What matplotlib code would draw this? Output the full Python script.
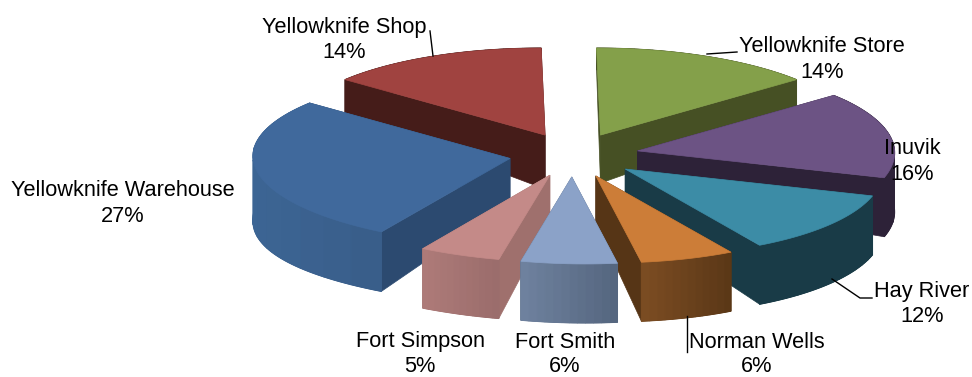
"""
Exploded 3D-look pie: top faces are a squashed circle with a little shear
towards the front, walls get taller towards the viewer.
"""
import numpy as np
import matplotlib
matplotlib.use("Agg")
import matplotlib.pyplot as plt
from matplotlib.colors import to_hex, to_rgb

plt.rcParams["font.family"] = ["Liberation Sans", "DejaVu Sans"]

categories = ["Yellowknife Store", "Inuvik", "Hay River", "Norman Wells",
              "Fort Smith", "Fort Simpson", "Yellowknife Warehouse", "Yellowknife Shop"]
values = [14, 16, 12, 6, 6, 5, 27, 14]
top_colors = ["#84A04A", "#6C5384", "#3C8CA6", "#CC7D38",
              "#8BA2C8", "#C48A88", "#40699C", "#A04340"]
cut_colors = ["#465024", "#2D2238", "#193B47", "#563516",
              "#55667F", "#9F706D", "#2C4A70", "#451C19"]
wall_left = ["#465024", "#2D2238", "#193B47", "#7C4D23",
             "#6F829F", "#AE7B79", "#3C6594", "#451C19"]
wall_right = ["#465024", "#2D2238", "#193B47", "#5A3716",
              "#54657E", "#9A6C6B", "#395D89", "#451C19"]

CX, CY = 572, 155      # pie centre in pixels
RX, RY = 257, 87       # top face radii
EX, EY = 65, 22        # explosion offset
BANDS = 12             # gradient steps on the outer wall


def shear(sy):
    return np.where(sy > 100, 0.00065 * (sy - 100) ** 2, -0.06 * (100 - sy))


def apex_depth(sy):
    return 34 + 0.137 * (sy - 80)


def arc_depth(sy, th):
    side = 59 + 6 * np.clip(-np.sin(th), 0, 1) ** 4
    return np.minimum(34 + 0.4 * (sy - 79), side)


fig = plt.figure(figsize=(9.72, 3.77), dpi=100)
ax = fig.add_axes([0, 0, 1, 1])
ax.set_xlim(0, 972)
ax.set_ylim(377, 0)
ax.axis("off")

fracs = np.array(values) / np.sum(values)
starts = np.concatenate([[0], np.cumsum(fracs)[:-1]]) * 2 * np.pi
ends = np.cumsum(fracs) * 2 * np.pi
mids = (starts + ends) / 2
apex_y = CY - EY * np.cos(mids)
rank = np.argsort(np.argsort(apex_y))   # back slices drawn first

# the two back slices have deeper cut faces than the model gives
apex_wall = {"Yellowknife Store": 48, "Yellowknife Shop": 54}

for i, name in enumerate(categories):
    z = 3 * rank[i]
    ay0 = apex_y[i]
    ax0 = CX + EX * np.sin(mids[i]) + shear(ay0)
    th = np.linspace(starts[i], ends[i], 61)
    ey = ay0 - RY * np.cos(th)
    ex = ax0 - shear(ay0) + RX * np.sin(th) + shear(ey)
    ed = arc_depth(ey, th)
    ad = apex_wall.get(name, apex_depth(ay0))

    # radial cut faces
    for k in (0, -1):
        ax.fill([ax0, ex[k], ex[k], ax0],
                [ay0, ey[k], ey[k] + ed[k], ay0 + ad],
                color=cut_colors[i], lw=0.5, zorder=z + 1)

    # outer wall: solid base, then wide bands for the gradient
    ax.fill(np.r_[ex, ex[::-1]], np.r_[ey, (ey + ed)[::-1]],
            color=wall_right[i], lw=0.5, zorder=z + 2)
    c0, c1 = np.array(to_rgb(wall_left[i])), np.array(to_rgb(wall_right[i]))
    xmin, xmax = ex.min(), ex.max()
    edges = np.linspace(0, len(th) - 1, BANDS + 1).astype(int)
    for a, b in zip(edges[:-1], edges[1:]):
        t = (ex[a:b + 1].mean() - xmin) / (xmax - xmin)
        col = to_hex(c0 + (c1 - c0) * t)
        ax.fill(np.r_[ex[a:b + 1], ex[a:b + 1][::-1]],
                np.r_[ey[a:b + 1], (ey + ed)[a:b + 1][::-1]],
                color=col, lw=0.8, zorder=z + 2)

    # top face
    ax.fill(np.r_[ax0, ex], np.r_[ay0, ey], color=top_colors[i], lw=0.5, zorder=z + 3)

# leader lines
for xs, ys in [([430, 433], [31, 56]), ([707, 737], [54, 52]),
               ([832, 860, 872], [279, 298, 298]), ([687, 687], [316, 352])]:
    ax.plot(xs, ys, color="black", lw=1, zorder=50)

# labels
label_pos = [(822, 47), (912, 149), (922, 292), (757, 342),
             (565, 342), (420, 341), (123, 191), (344, 27)]
for name, v, (x, y) in zip(categories, values, label_pos):
    ax.text(x, y, name, ha="center", va="center", fontsize=15.7, color="black", zorder=60)
    ax.text(x, y + 25, f"{v}%", ha="center", va="center", fontsize=15.7, color="black", zorder=60)

fig.savefig("out.png", dpi=100)
